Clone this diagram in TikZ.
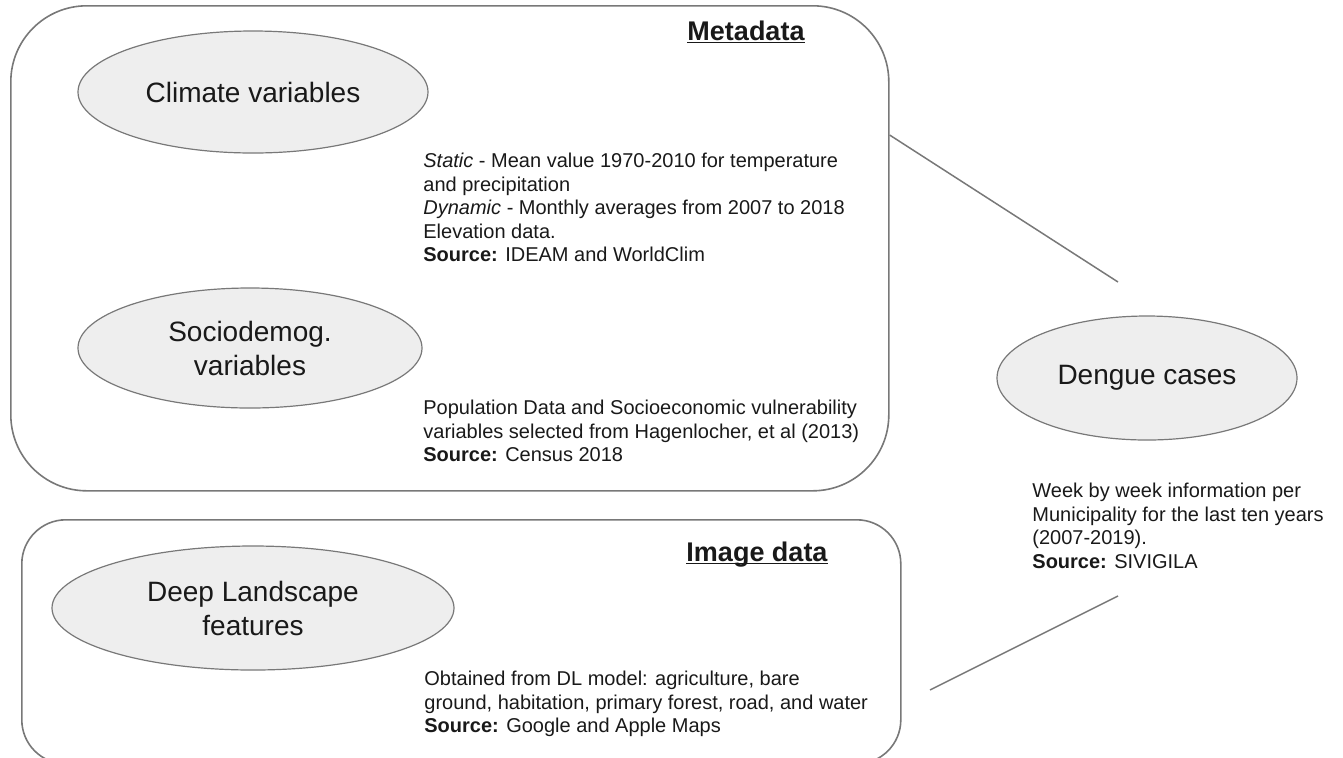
\documentclass[tikz,border=0pt]{standalone}
\usepackage{fontspec}
\setmainfont{Liberation Sans}
\usepackage{tikz}
\usetikzlibrary{shapes}
\usepackage{xcolor}
\definecolor{dfgray}{RGB}{120,120,120}
\definecolor{dflightgray}{RGB}{238,238,238}
\definecolor{dftext}{RGB}{25,25,25}
\tikzstyle{groupbox} = [rectangle, draw=dfgray, line width=0.8pt, anchor=north west, inner sep=0pt]
\tikzstyle{varnode} = [ellipse, draw=dfgray, fill=dflightgray, line width=0.6pt, inner sep=0pt, align=center, font=\fontsize{14}{17}\selectfont]
\tikzstyle{infotext} = [anchor=north west, inner sep=0pt, align=left, font=\fontsize{10}{11.75}\selectfont]
\tikzstyle{grouptitle} = [inner sep=0pt, font=\fontsize{13.5}{16}\selectfont\bfseries]
\tikzstyle{link} = [draw=dfgray, line width=0.75pt]

\begin{document}
\begin{tikzpicture}[x=0.5pt, y=-0.5pt, text=dftext]
\useasboundingbox (0,0) rectangle (1343,757);
\node[groupbox, rounded corners=38pt, minimum width=439pt, minimum height=242.5pt] (meta) at (10,5) {};
\node[groupbox, rounded corners=22pt, minimum width=439.5pt, minimum height=122pt] (img) at (21,519) {};

\node[grouptitle] (metatitle) at (746,42) {\underline{\smash{Metadata}}};
\node[grouptitle] (imgtitle) at (757,563) {\underline{\smash{Image data}}};

\node[varnode, minimum width=175pt, minimum height=61pt] (climate) at (253,92) {Climate variables};
\node[varnode, minimum width=172pt, minimum height=60pt] (socio) at (250,348) {Sociodemog.\\variables};
\node[varnode, minimum width=201pt, minimum height=62pt] (deep) at (253,608) {Deep Landscape\\features};
\node[varnode, minimum width=150pt, minimum height=62pt] (dengue) at (1147,378) {Dengue cases};

\node[infotext] (climatetxt) at (423,153) {\textit{Static} - Mean value 1970-2010 for temperature\\and precipitation\\\textit{Dynamic} - Monthly averages from 2007 to 2018\\Elevation data.\\\textbf{Source:} IDEAM and WorldClim};
\node[infotext] (sociotxt) at (423,400) {Population Data and Socioeconomic vulnerability\\variables selected from Hagenlocher, et al (2013)\\\textbf{Source:} Census 2018};
\node[infotext] (deeptxt) at (424,671) {Obtained from DL model: agriculture, bare\\ground, habitation, primary forest, road, and water\\\textbf{Source:} Google and Apple Maps};
\node[infotext] (denguetxt) at (1032,483) {Week by week information per\\Municipality for the last ten years\\(2007-2019).\\\textbf{Source:} SIVIGILA};

\coordinate (dgtop) at (1118,282);
\coordinate (dgbot) at (1118,596);
\coordinate (imgend) at (930,690);
\draw[link] ([yshift=-65pt]meta.north east) -- (dgtop);
\draw[link] (dgbot) -- (imgend);
\end{tikzpicture}
\end{document}
